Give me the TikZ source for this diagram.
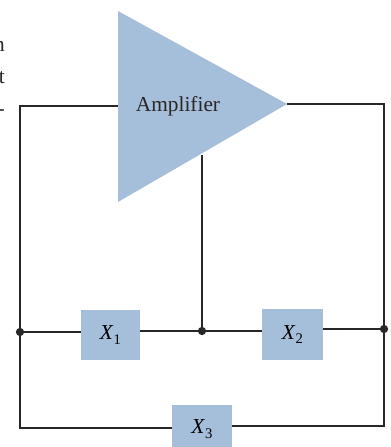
\documentclass[tikz,border=0pt]{standalone}
\usepackage{fontspec}
\setmainfont{Liberation Serif}
\usetikzlibrary{calc}
\definecolor{softblue}{RGB}{165,190,217}
\definecolor{wireblack}{RGB}{40,38,38}
\newcommand{\subX}[1]{\textit{X}\raisebox{-0.45ex}{\fontsize{11}{11}\selectfont #1}}

\begin{document}
\begin{tikzpicture}[
        x=0.75pt, y=-0.75pt,
        elem/.style={fill=softblue, inner sep=0pt, font=\fontsize{16}{18}\selectfont},
        wire/.style={draw=wireblack, line width=1.1pt},
        junct/.style={circle, fill=wireblack, inner sep=0pt, minimum size=6.2pt},
        cut/.style={text=wireblack, inner sep=0pt, anchor=base east, font=\fontsize{16}{18}\selectfont}
      ]
        \useasboundingbox (0,0) rectangle (391,447);
        \clip (0,0) rectangle (391,447);
        % amplifier corners
        \coordinate (ampin) at (118,106);
        \coordinate (ampout) at (287,104);
        \coordinate (amptap) at (202,155);
        \coordinate (lefttop) at (20,106);
        \coordinate (righttop) at (384,104);
        \coordinate (leftbot) at (20,428);
        \coordinate (rightbot) at (384,426);

        \node[junct] (jleft) at (20,332) {};
        \node[junct] (jmid) at (202,331) {};
        \node[junct] (jright) at (384,329) {};
        \node[elem, minimum width=44.25pt, minimum height=37.5pt] (x1) at (110.5,335) {\subX{1}};
        \node[elem, minimum width=45.75pt, minimum height=38.25pt] (x2) at (292.5,334.5) {\subX{2}};
        \node[elem, minimum width=45pt, minimum height=36pt] (x3) at (202,429) {\subX{3}};

        % wires
        \draw[wire] (ampin) -- (lefttop) -- (leftbot) -- (leftbot -| x3.west);
        \draw[wire] (ampout) -- (righttop) -- (rightbot) -- (rightbot -| x3.east);
        \draw[wire] (amptap) -- (jmid);
        \draw[wire] (jleft) -- (jleft -| x1.west);
        \draw[wire] (x1.east |- jmid) -- (jmid) -- (jmid -| x2.west);
        \draw[wire] (x2.east |- jright) -- (jright);

        \fill[softblue] (118,11) -- (287,104) -- (118,202) -- cycle;
        \node[inner sep=0pt, text=wireblack, font=\fontsize{16}{18}\selectfont] (amp) at (178,106.5) {Amplifier};

        % cut off text at the page edge
        \node[cut] (cutn) at (5,51) {n};
        \node[cut] (cutt) at (5,83) {t};
        \node[cut] (cuth) at (5,115) {-};
      \end{tikzpicture}
\end{document}
